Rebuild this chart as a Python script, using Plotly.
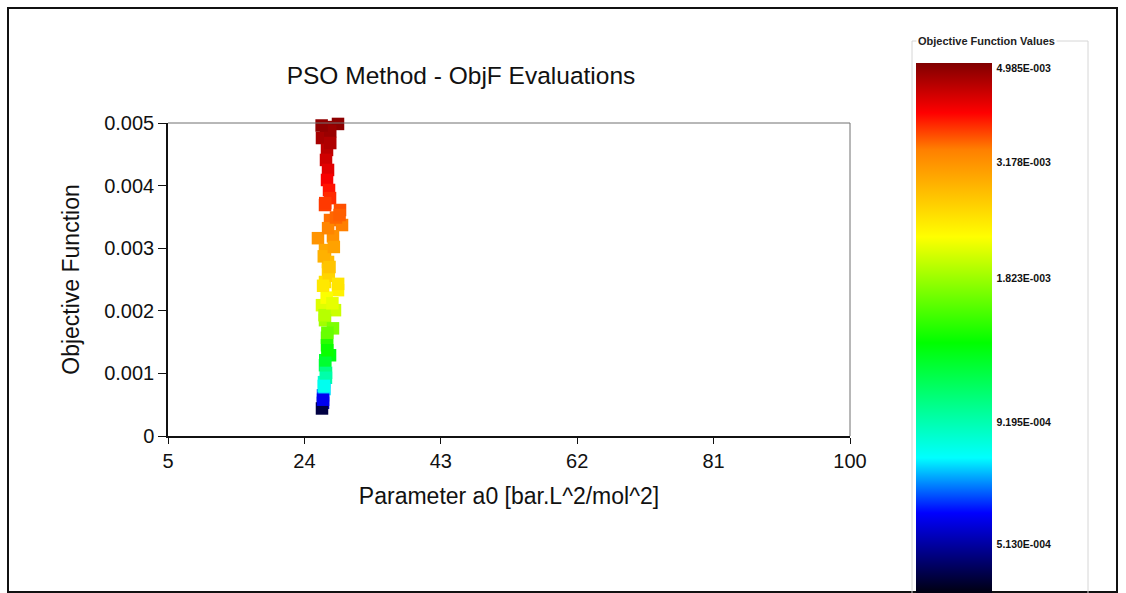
import numpy as np
import plotly.graph_objects as go

# Data
a0_values = [27.01, 28.68, 26.45, 27.15, 27.01, 27.29, 27.15, 27.43, 27.57, 26.87,
             28.96, 27.57, 29.24, 25.89, 27.98, 26.87, 27.29, 27.29, 26.87, 28.68,
             26.45, 28.26, 26.87, 27.98, 27.15, 27.15, 27.57, 26.87, 27.01, 26.73,
             26.59, 26.59, 26.45, 27.6, 26.9, 27.3, 26.7, 27.4, 27.1, 26.8,
             27.2, 26.9, 27.0, 26.8, 28.4, 26.6, 28.1, 27.5, 26.6, 28.7,
             27.9, 27.2, 26.7, 27.6, 26.4, 28.9]
objf_values = [0.004935, 0.004985, 0.00476, 0.00457, 0.00441, 0.00425, 0.00409, 0.00393, 0.00380, 0.00369,
               0.00361, 0.00345, 0.00337, 0.00316, 0.00319, 0.00297, 0.00278, 0.00265, 0.00246, 0.00233,
               0.00209, 0.00201, 0.00185, 0.00172, 0.00157, 0.00145, 0.00129, 0.00113, 0.00101, 0.00086,
               0.00065, 0.00053, 0.00044, 0.00487, 0.00372, 0.00332, 0.00287, 0.00256, 0.00221, 0.00193,
               0.00165, 0.00121, 0.00093, 0.00075, 0.00349, 0.00058, 0.00302, 0.00270, 0.00240, 0.00243,
               0.00212, 0.00137, 0.00080, 0.00468, 0.00496, 0.00353]

x_ticks = [5, 24, 43, 62, 81, 100]
y_ticks = [0, 0.001, 0.002, 0.003, 0.004, 0.005]
y_tick_text = ["0", "0.001", "0.002", "0.003", "0.004", "0.005"]

cbar_values = [4.985e-3, 3.178e-3, 1.823e-3, 9.195e-4, 5.130e-4]
cbar_labels = ["4.985E-003", "3.178E-003", "1.823E-003", "9.195E-004", "5.130E-004"]

W, H = 1126, 593
L, R, T, B = 168, 850, 123, 436


def px(xp):
    return (xp - L) / (R - L)


def py(yp):
    return (B - yp) / (B - T)


colorscale = [
    [0.0, "#000010"],
    [0.151, "#0000FF"],
    [0.255, "#00FFFF"],
    [0.472, "#00FF00"],
    [0.672, "#FFFF00"],
    [0.836, "#FF8000"],
    [0.906, "#FF0000"],
    [1.0, "#800000"],
]

log_objf = np.log10(np.array(objf_values))

fig = go.Figure()
fig.add_trace(go.Scatter(
    x=a0_values, y=objf_values, mode="markers",
    cliponaxis=False,
    marker=dict(
        symbol="square", size=12.5, line=dict(width=0),
        color=log_objf, colorscale=colorscale,
        cmin=-3.3912, cmax=-2.2916,
        showscale=True,
        colorbar=dict(
            xref="paper", yref="paper",
            x=px(916), xanchor="left", xpad=0,
            y=py(63), yanchor="top", ypad=0,
            thickness=76, thicknessmode="pixels",
            len=530, lenmode="pixels",
            outlinewidth=0,
            tickvals=list(np.log10(cbar_values)), ticktext=cbar_labels,
            ticks="outside", ticklen=3, tickcolor="rgba(0,0,0,0)",
            tickfont=dict(family="Liberation Sans, Arial", size=10.5, color="#111111", weight="bold"),
        ),
    ),
    showlegend=False,
))

shapes = [
    # outer frame
    dict(type="rect", xref="paper", yref="paper", x0=px(8), x1=px(1117), y0=py(592), y1=py(8),
         line=dict(color="#111111", width=2), layer="below"),
    # colorbar group box
    dict(type="rect", xref="paper", yref="paper", x0=px(912), x1=px(1088), y0=py(600), y1=py(41),
         line=dict(color="#d6d6d6", width=1), layer="below"),
    # top and right plot borders
    dict(type="line", xref="paper", yref="paper", x0=0, x1=1, y0=1, y1=1,
         line=dict(color="#707070", width=1)),
    dict(type="line", xref="paper", yref="paper", x0=1, x1=1, y0=0, y1=1,
         line=dict(color="#707070", width=1)),
]

fig.update_layout(
    width=W, height=H,
    margin=dict(l=L, r=W - R, t=T, b=H - B, pad=0),
    paper_bgcolor="white", plot_bgcolor="white",
    font=dict(family="Liberation Sans, Arial", color="#111111"),
    title=dict(text="PSO Method - ObjF Evaluations", xref="container", yref="container",
               x=461 / W, xanchor="center", y=1 - 75 / H, yanchor="middle",
               font=dict(size=24.5, color="#111111")),
    xaxis=dict(range=[5, 100], tickvals=x_ticks, showgrid=False, zeroline=False,
               showline=True, linecolor="#111111", linewidth=1.5,
               ticks="outside", ticklen=6, tickcolor="#111111",
               tickfont=dict(size=20),
               title=dict(text="Parameter a0 [bar.L^2/mol^2]", font=dict(size=23), standoff=17)),
    yaxis=dict(range=[0, 0.005], tickvals=y_ticks, ticktext=y_tick_text, showgrid=False, zeroline=False,
               showline=True, linecolor="#111111", linewidth=1.5,
               ticks="outside", ticklen=8, tickcolor="#111111",
               tickfont=dict(size=20),
               title=dict(text="Objective Function", font=dict(size=23), standoff=18)),
    shapes=shapes,
    annotations=[dict(text="<b>Objective Function Values</b>", xref="paper", yref="paper",
                      x=px(916), y=py(41), xanchor="left", yanchor="middle", showarrow=False,
                      bgcolor="white", font=dict(size=11, color="#222222"), borderpad=1)],
)

fig.write_html("out.html")
